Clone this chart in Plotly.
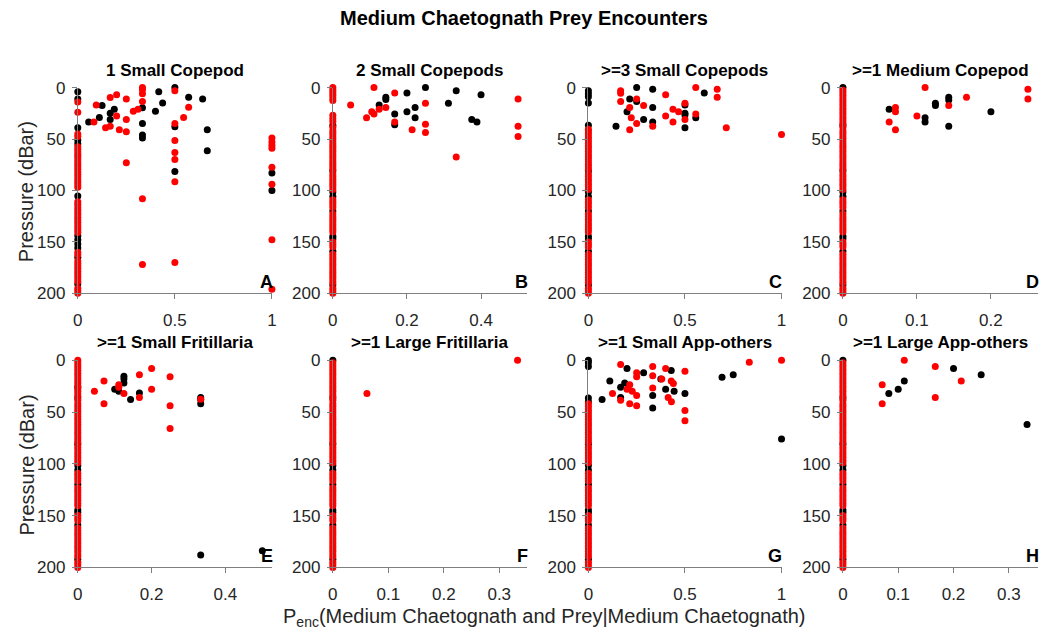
import plotly.graph_objects as go

# ---- data: non-zero encounter probabilities (x) and pressure (dBar, y) ----
# Black = one group of casts, red = the other group
A_BLACK_X = [0.056, 0.111, 0.125, 0.167, 0.167, 0.188, 0.333, 0.333, 0.333, 0.333, 0.417,
             0.437, 0.4, 0.5, 0.5, 0.5, 0.571, 0.643, 0.667, 0.667, 1, 1]
A_BLACK_Y = [33.4, 29, 17.5, 25, 31, 21, 19.7, 35, 46, 49, 4, 15, 23, 0, 38, 81.5, 9.4, 11,
             41, 61.5, 83, 100]
A_RED_X = [0.083, 0.095, 0.143, 0.167, 0.167, 0.2, 0.2, 0.214, 0.25, 0.25, 0.25, 0.25, 0.286,
           0.31, 0.333, 0.333, 0.333, 0.333, 0.333, 0.333, 0.5, 0.5, 0.5, 0.5, 0.5, 0.5, 0.5,
           0.545, 0.571, 1, 1, 1, 1, 1, 1, 1, 1]
A_RED_Y = [33.4, 17, 39, 37.5, 9.7, 7, 27.5, 41, 11, 31, 43, 73, 23, 21, 0, 2, 6, 13.4, 108,
           172, 3, 35, 51.5, 63, 70, 91.5, 170, 29, 19, 49, 53, 56, 59, 77.5, 94, 148, 196]

B_BLACK_X = [0.125, 0.143, 0.143, 0.167, 0.167, 0.2, 0.2, 0.222, 0.222, 0.25, 0.312, 0.333,
             0.375, 0.389, 0.4]
B_BLACK_Y = [17, 9.4, 11.5, 25.6, 36, 5.3, 23.4, 19.4, 29.4, 0, 15.3, 3, 31, 33.4, 7]
B_RED_X = [0.048, 0.091, 0.105, 0.111, 0.111, 0.125, 0.143, 0.167, 0.167, 0.214, 0.25, 0.25,
           0.25, 0.333, 0.5, 0.5, 0.5]
B_RED_Y = [17, 29.4, 23.4, 25.6, 0, 21, 19.4, 5.3, 33.4, 41, 15.3, 35.6, 43.7, 67.5, 11, 37.5,
           47.5]

C_BLACK_X = [0.143, 0.2, 0.214, 0.25, 0.25, 0.286, 0.333, 0.333, 0.333, 0.5, 0.5, 0.5, 0.5,
             0.556, 0.6]
C_BLACK_Y = [37.5, 23.4, 11, 0, 13.4, 31, 1.6, 19.4, 33.4, 17, 25, 26.6, 39, 29.4, 5.3]
C_RED_X = [0.167, 0.167, 0.167, 0.214, 0.222, 0.214, 0.25, 0.25, 0.286, 0.333, 0.4, 0.4,
           0.438, 0.438, 0.467, 0.5, 0.5, 0.556, 0.556, 0.667, 0.667, 0.714, 1]
C_RED_Y = [3, 5.6, 13.4, 19.4, 29.4, 41, 11, 35, 17.5, 37.5, 7, 27.5, 33.4, 21, 23.4, 15.3, 31,
           0, 25.6, 1.6, 9.4, 39, 45.6]

D_BLACK_X = [0.0625, 0.111, 0.111, 0.125, 0.125, 0.143, 0.143, 0.143, 0.2]
D_BLACK_Y = [21, 29.4, 33.4, 15.3, 17.5, 9.4, 12, 37.5, 23.4]
D_RED_X = [0.0625, 0.071, 0.071, 0.071, 0.1, 0.111, 0.143, 0.167, 0.25, 0.25]
D_RED_Y = [33.4, 19.4, 23.4, 41, 27.5, 0, 17.5, 9.4, 1.6, 11]

E_BLACK_X = [0.1, 0.111, 0.125, 0.125, 0.125, 0.143, 0.167, 0.333, 0.333, 0.333, 0.333, 0.5]
E_BLACK_Y = [28, 30, 15.5, 18, 22, 38, 31.7, 36, 38, 42, 188, 184]
E_RED_X = [0.045, 0.071, 0.071, 0.111, 0.111, 0.125, 0.167, 0.167, 0.2, 0.2, 0.25, 0.25,
           0.25, 0.333]
E_RED_Y = [30, 20, 42, 23.6, 26, 32, 14, 36, 8, 28, 16, 44, 66, 37.6]

F_BLACK_X = []
F_BLACK_Y = []
F_RED_X = [0.0615, 0.333]
F_RED_Y = [32, 0]

G_BLACK_X = [0.071, 0.111, 0.167, 0.167, 0.188, 0.2, 0.286, 0.333, 0.333, 0.375, 0.4, 0.429,
             0.444, 0.5, 0.692, 0.75, 1]
G_BLACK_Y = [38, 20, 26, 36, 22, 8, 12, 34, 46, 18, 28, 10, 30, 32, 16.5, 14, 76]
G_RED_X = [0.125, 0.167, 0.167, 0.2, 0.214, 0.214, 0.227, 0.25, 0.25, 0.25, 0.25, 0.333,
           0.333, 0.333, 0.38, 0.4, 0.413, 0.429, 0.43, 0.44, 0.5, 0.5, 0.5, 0.833, 1]
G_RED_Y = [32, 4, 38.5, 28, 23.6, 42, 30, 12, 16, 34, 44, 6, 15, 26.7, 18, 8, 36, 20, 40,
           22.4, 10.6, 48.5, 58.5, 2, 0]

H_BLACK_X = [0.083, 0.1, 0.111, 0.2, 0.25, 0.333]
H_BLACK_Y = [32, 28, 20, 8, 14, 62]
H_RED_X = [0.071, 0.071, 0.111, 0.167, 0.167, 0.214]
H_RED_Y = [23.6, 42, 0, 6, 36, 20]

# ---- depths of zero-probability samples (plotted at x = 0) ----
DEEP_RED_ZERO = [42, 44.5, 47, 49.5, 52, 54.5, 57, 59.5, 62, 64.5, 67, 69.5, 72, 74.5, 77,
                 79.5, 84, 86.5, 89, 91.5, 94, 96.5, 99, 109, 111.5, 114, 116.5, 123, 125.5,
                 128, 130.5, 133, 135.5, 138, 140.5, 150, 152.5, 155, 162, 164.5, 167, 169.5,
                 172, 174.5, 177, 179.5, 182, 184.5, 187, 189.5, 195, 197.5, 200]
SHALLOW_RED_ZERO = [0, 2.5, 5, 7.5, 10, 12.5, 15, 17.5, 20, 22.5, 25, 27.5, 30, 32.5, 35,
                    38.5]
COMMON_BLACK_ZERO = [36.5, 81, 101.5, 106, 120, 144.5, 147, 159, 192]

A_RED_ZERO = [14, 24, 45, 47.5, 57.5, 60, 62.5, 65, 67, 69.5, 72, 74.5, 77, 79.5, 82, 84.5,
              87, 89.5, 92, 94.5, 97, 111, 113.5, 116, 118.5, 121, 123.5, 126, 128.5, 131,
              133.5, 136, 138.5, 141, 160, 162.5, 168.5, 171, 173.5, 176, 178.5, 181, 183.5,
              186, 188.5, 195, 197.5, 200]
A_BLACK_ZERO = [4, 11, 39, 51, 54.5, 105.5, 144, 148, 152, 156, 165, 191]
B_RED_ZERO = [0, 2.5, 5, 7.5, 10, 12.5, 27, 30, 33, 38.5]
B_BLACK_ZERO = []
C_RED_ZERO = [40.5]
C_BLACK_ZERO = [3, 6, 9, 15]
D_RED_ZERO = SHALLOW_RED_ZERO[1:]
D_BLACK_ZERO = [0]
E_RED_ZERO = SHALLOW_RED_ZERO
E_BLACK_ZERO = [26]
F_RED_ZERO = SHALLOW_RED_ZERO[1:]
F_BLACK_ZERO = [0]
G_RED_ZERO = []
G_BLACK_ZERO = [0, 2.5, 6, 40]
H_RED_ZERO = SHALLOW_RED_ZERO[1:]
H_BLACK_ZERO = [0]

TITLES = ["1 Small Copepod", "2 Small Copepods", ">=3 Small Copepods", ">=1 Medium Copepod",
          ">=1 Small Fritillaria", ">=1 Large Fritillaria", ">=1 Small App-others",
          ">=1 Large App-others"]
LETTERS = ["A", "B", "C", "D", "E", "F", "G", "H"]
X_MAX = [1, 0.524, 1, 0.263, 0.526, 0.35, 1, 0.352]
X_TICKS = [[0, 0.5, 1], [0, 0.2, 0.4], [0, 0.5, 1], [0, 0.1, 0.2],
           [0, 0.2, 0.4], [0, 0.1, 0.2, 0.3], [0, 0.5, 1], [0, 0.1, 0.2, 0.3]]
Y_TICKS = [0, 50, 100, 150, 200]

PANELS = [
    (A_BLACK_X, A_BLACK_Y, A_RED_X, A_RED_Y, A_BLACK_ZERO, A_RED_ZERO, False),
    (B_BLACK_X, B_BLACK_Y, B_RED_X, B_RED_Y, B_BLACK_ZERO, B_RED_ZERO, True),
    (C_BLACK_X, C_BLACK_Y, C_RED_X, C_RED_Y, C_BLACK_ZERO, C_RED_ZERO, True),
    (D_BLACK_X, D_BLACK_Y, D_RED_X, D_RED_Y, D_BLACK_ZERO, D_RED_ZERO, True),
    (E_BLACK_X, E_BLACK_Y, E_RED_X, E_RED_Y, E_BLACK_ZERO, E_RED_ZERO, True),
    (F_BLACK_X, F_BLACK_Y, F_RED_X, F_RED_Y, F_BLACK_ZERO, F_RED_ZERO, True),
    (G_BLACK_X, G_BLACK_Y, G_RED_X, G_RED_Y, G_BLACK_ZERO, G_RED_ZERO, True),
    (H_BLACK_X, H_BLACK_Y, H_RED_X, H_RED_Y, H_BLACK_ZERO, H_RED_ZERO, True),
]

W, H = 1048, 640
COL_PX = [(73.5, 269.5), (331, 527), (589, 784), (846, 1042.5)]
ROW_PX = [(81, 293), (362, 575.5)]   # (top, bottom) pixel rows

FONT = "Arial, 'Liberation Sans', Helvetica, sans-serif"
AXIS_GRAY = "#7f7f7f"
TEXT = "#262626"
MS = 7

fig = go.Figure()
annotations = []
layout = {}

for i, (bx, by, rx, ry, bzero, rzero, use_common) in enumerate(PANELS):
    row, col = divmod(i, 4)
    sfx = "" if i == 0 else str(i + 1)
    xa, ya = "x" + sfx, "y" + sfx

    black_zero = bzero + (COMMON_BLACK_ZERO if use_common else [])
    red_zero = rzero + (DEEP_RED_ZERO if use_common else [])

    fig.add_trace(go.Scatter(
        x=[0] * len(black_zero) + bx, y=black_zero + by, mode="markers",
        marker=dict(color="black", size=MS, line=dict(width=0)),
        xaxis=xa, yaxis=ya, cliponaxis=False, showlegend=False, hoverinfo="x+y"))
    fig.add_trace(go.Scatter(
        x=[0] * len(red_zero) + rx, y=red_zero + ry, mode="markers",
        marker=dict(color="#ff0000", size=MS, line=dict(width=0)),
        xaxis=xa, yaxis=ya, cliponaxis=False, showlegend=False, hoverinfo="x+y"))

    x0, x1 = COL_PX[col]
    top, bot = ROW_PX[row]
    xdom = [x0 / W, x1 / W]
    ydom = [1 - bot / H, 1 - top / H]

    axis_common = dict(showline=True, linecolor=AXIS_GRAY, linewidth=1, ticks="outside",
                       ticklen=5, tickcolor=AXIS_GRAY, showgrid=False, zeroline=False,
                       tickfont=dict(family=FONT, size=17, color=TEXT), fixedrange=True)
    layout["xaxis" + sfx] = dict(domain=xdom, range=[0, X_MAX[i]], anchor=ya,
                                 tickvals=X_TICKS[i], ticklabelstandoff=6,
                                 ticktext=[("%g" % v) for v in X_TICKS[i]], **axis_common)
    layout["yaxis" + sfx] = dict(domain=ydom, range=[200, 0], anchor=xa,
                                 tickvals=Y_TICKS, ticklabelstandoff=3, **axis_common)

    # panel title
    annotations.append(dict(text="<b>%s</b>" % TITLES[i], xref="paper", yref="paper",
                            x=(x0 + x1) / 2 / W, y=1 - (top - 18) / H,
                            xanchor="center", yanchor="middle", showarrow=False,
                            font=dict(family=FONT, size=17, color="black")))
    # panel letter
    annotations.append(dict(text="<b>%s</b>" % LETTERS[i], xref="paper", yref="paper",
                            x=(x1 + 3) / W, y=1 - (bot - 12) / H,
                            xanchor="right", yanchor="middle", showarrow=False,
                            font=dict(family=FONT, size=18, color="black")))

# y-axis titles for the left column
for top, bot in ROW_PX:
    annotations.append(dict(text="Pressure (dBar)", xref="paper", yref="paper",
                            x=22 / W, y=1 - ((top + bot) / 2 + 1) / H, textangle=-90,
                            xanchor="center", yanchor="middle", showarrow=False,
                            font=dict(family=FONT, size=20, color=TEXT)))

# shared x-axis title
annotations.append(dict(text="P<sub>enc</sub>(Medium Chaetognath and Prey|Medium Chaetognath)",
                        xref="paper", yref="paper", x=545 / W, y=1 - 627 / H,
                        xanchor="center", yanchor="middle", showarrow=False,
                        font=dict(family=FONT, size=20, color=TEXT)))

fig.update_layout(
    width=W, height=H, margin=dict(l=0, r=0, t=0, b=0),
    paper_bgcolor="white", plot_bgcolor="white",
    title=dict(text="<b>Medium Chaetognath Prey Encounters</b>", x=0.5, xanchor="center",
               y=1 - 18 / H, yanchor="middle", font=dict(family=FONT, size=20, color="black")),
    annotations=annotations, **layout)

fig.write_html("out.html")
